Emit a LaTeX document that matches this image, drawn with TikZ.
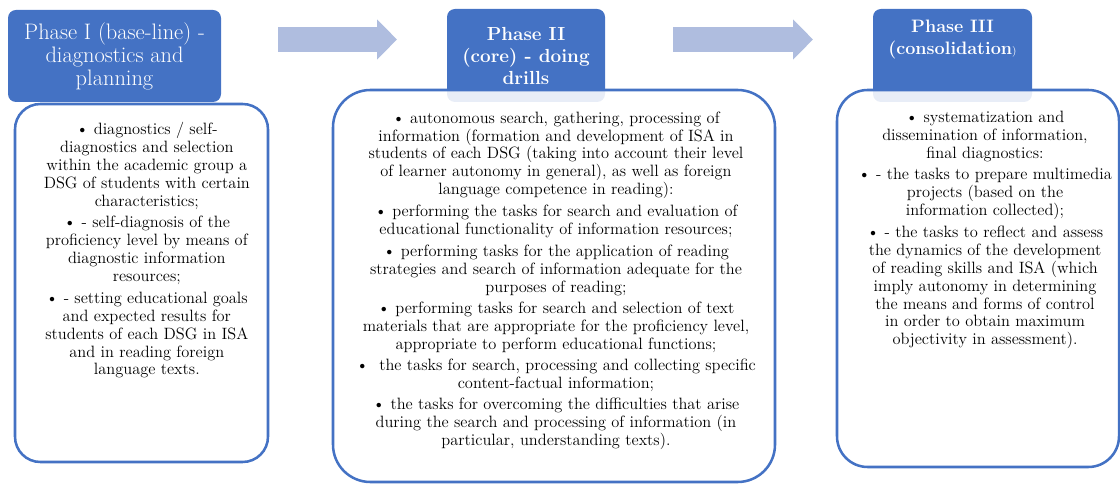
\documentclass[tikz,border=0pt]{standalone}
\usepackage{xcolor}
\usepackage{tikz}
\usetikzlibrary{arrows.meta,positioning}
\definecolor{phblue}{HTML}{4472C4}
\definecolor{arrc}{HTML}{AFBDDF}
\tikzset{
  hd/.style={fill=phblue,rounded corners=6pt,inner sep=0pt},
  hdtxt/.style={text=white,align=center,inner sep=0pt},
  box/.style={draw=phblue,line width=1.9pt,fill=white,fill opacity=0.88,inner sep=0pt},
  bodytxt/.style={align=center,inner sep=0pt,font=\fontsize{12.3}{13.4}\selectfont},
  ar/.style={-{Triangle[length=15pt,width=29.25pt]},line width=18.75pt,arrc}
}

\begin{document}
\begin{tikzpicture}[x=0.75pt,y=-0.75pt]
\useasboundingbox (0,0) rectangle (1120,484);
% phase headers
\node[hd,minimum width=159.75pt,minimum height=69pt] (hdI) at (114.5,56) {};
\node[hd,minimum width=118.5pt,minimum height=69.75pt] (hdII) at (526,55.5) {};
\node[hd,minimum width=119.25pt,minimum height=69.75pt] (hdIII) at (952.5,55.5) {};
% text boxes
\node[box,rounded corners=19pt,minimum width=189.75pt,minimum height=268.5pt] (boxI) at (141.5,283) {};
\node[box,rounded corners=28pt,minimum width=331.5pt,minimum height=294pt] (boxII) at (554,286) {};
\node[box,rounded corners=23pt,minimum width=211.5pt,minimum height=282.75pt] (boxIII) at (978,278.5) {};
% arrows
\coordinate (a1s) at (278,39.5);
\coordinate (a1e) at (397,39.5);
\coordinate (a2s) at (673,39.5);
\coordinate (a2e) at (813,39.5);
\draw[ar] (a1s) -- (a1e);
\draw[ar] (a2s) -- (a2e);
% titles
\node[hdtxt,font=\fontsize{16.8}{17.25}\selectfont] (tiI) at (hdI) {Phase I (base-line) -\\diagnostics and\\planning};
\node[hdtxt,font=\bfseries\fontsize{14.2}{16.5}\selectfont] (tiII) at (hdII) {Phase II\\(core) - doing\\drills};
\node[hdtxt,font=\bfseries\fontsize{13.5}{16.5}\selectfont,anchor=north] (tiIII) at ([yshift=-8.25pt]hdIII.north) {Phase III\\(consolidation{\mdseries\fontsize{8}{9}\selectfont )}};
% box texts
\node[bodytxt,anchor=north] (txI) at ([xshift=4pt,yshift=-14.5pt]boxI.north) {%
\textbullet{} diagnostics / self-\\diagnostics and selection\\within the academic group a\\DSG of students with certain\\characteristics;\\[3pt]
\textbullet{} - self-diagnosis of the\\proficiency level by means of\\diagnostic information\\resources;\\[3pt]
\textbullet{} - setting educational goals\\and expected results for\\students of each DSG in ISA\\and in reading foreign\\language texts.};
\node[bodytxt,anchor=north] (txII) at ([xshift=1.5pt,yshift=-17pt]boxII.north) {%
\textbullet{} autonomous search, gathering, processing of\\information (formation and development of ISA in\\students of each DSG (taking into account their level\\of learner autonomy in general), as well as foreign\\language competence in reading):\\[3pt]
\textbullet{} performing the tasks for search and evaluation of\\educational functionality of information resources;\\[3pt]
\textbullet{} performing tasks for the application of reading\\strategies and search of information adequate for the\\purposes of reading;\\[3pt]
\textbullet{} performing tasks for search and selection of text\\materials that are appropriate for the proficiency level,\\appropriate to perform educational functions;\\[2pt]
\textbullet{}\ \ the tasks for search, processing and collecting specific\\content-factual information;\\[3pt]
\textbullet{} the tasks for overcoming the difficulties that arise\\during the search and processing of information (in\\particular, understanding texts).};
\node[bodytxt,anchor=north] (txIII) at ([xshift=5.25pt,yshift=-16.5pt]boxIII.north) {%
\textbullet{} systematization and\\dissemination of information,\\final diagnostics:\\[3pt]
\textbullet{} - the tasks to prepare multimedia\\projects (based on the\\information collected);\\[3pt]
\textbullet{} - the tasks to reflect and assess\\the dynamics of the development\\of reading skills and ISA (which\\imply autonomy in determining\\the means and forms of control\\in order to obtain maximum\\objectivity in assessment).};
\end{tikzpicture}
\end{document}
